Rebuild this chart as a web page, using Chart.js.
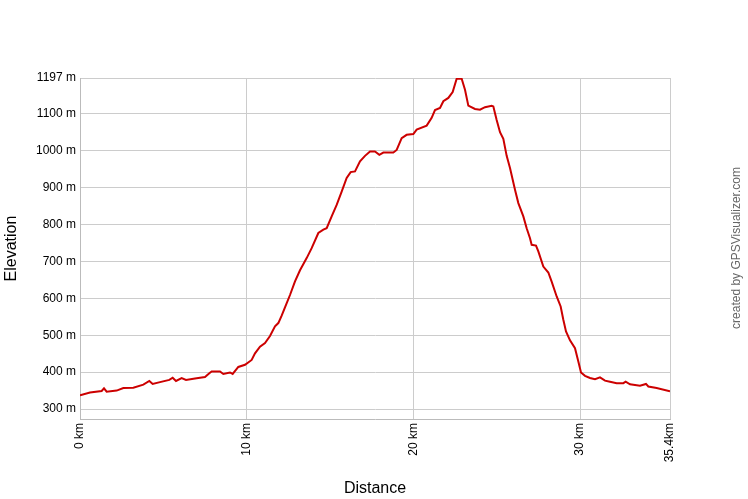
<!DOCTYPE html>
<html>
<head>
<meta charset="utf-8">
<script src="https://cdn.jsdelivr.net/npm/chart.js@4/dist/chart.umd.min.js"></script>
<style>
  body { margin: 0; background: #fff; }
  canvas { display: block; }
</style>
</head>
<body>
<canvas id="Chart" width="748" height="499"></canvas>
<script>
// distance along the track (km) and elevation (m)
const distKm = [0.0, 0.6, 1.3, 1.44, 1.6, 2.2, 2.6, 3.2, 3.8, 4.16, 4.36, 4.8, 5.36, 5.56, 5.76, 6.1, 6.36, 6.9, 7.2, 7.5,
  7.76, 7.9, 8.4, 8.6, 9.0, 9.16, 9.5, 9.9, 10.3, 10.5, 10.8, 11.1, 11.4, 11.7, 11.9, 12.1, 12.36, 12.6, 12.9, 13.2,
  13.6, 13.9, 14.3, 14.6, 14.8, 15.1, 15.4, 15.7, 16.0, 16.24, 16.5, 16.8, 17.1, 17.4, 17.7, 17.96, 18.2, 18.8, 19.0, 19.3,
  19.6, 20.0, 20.2, 20.8, 21.1, 21.3, 21.6, 21.8, 22.1, 22.36, 22.6, 22.9, 23.1, 23.3, 23.7, 24.0, 24.3, 24.7, 24.8, 25.0,
  25.2, 25.4, 25.6, 25.8, 26.1, 26.3, 26.6, 26.8, 27.0, 27.1, 27.36, 27.5, 27.8, 28.1, 28.3, 28.6, 28.84, 29.0, 29.16, 29.4,
  29.7, 29.9, 30.06, 30.3, 30.6, 30.9, 31.2, 31.5, 31.8, 32.2, 32.6, 32.74, 33.0, 33.6, 33.96, 34.1, 34.6, 35.4];
const elevM = [337, 345, 349, 356, 347, 350, 357, 358, 366, 376, 368, 373, 379, 385, 376, 384, 379, 383, 385, 387,
  397, 402, 402, 395, 399, 395, 414, 420, 433, 451, 469, 479, 498, 524, 533, 553, 582, 609, 646, 676,
  709, 736, 777, 786, 790, 822, 853, 889, 926, 942, 944, 971, 986, 998, 998, 989, 995, 995, 1002, 1034,
  1043, 1045, 1057, 1068, 1089, 1110, 1116, 1134, 1143, 1159, 1195, 1195, 1165, 1122, 1113, 1111, 1118, 1122, 1120, 1083,
  1050, 1032, 986, 953, 894, 858, 822, 790, 763, 745, 743, 727, 686, 670, 645, 605, 578, 542, 510, 486,
  465, 429, 399, 390, 384, 381, 386, 377, 374, 370, 370, 374, 367, 363, 368, 361, 357, 348];

const xTicks = [0, 10, 20, 30, 35.4];
const yTicks = [300, 400, 500, 600, 700, 800, 900, 1000, 1100, 1197];

const points = distKm.map((d, i) => ({x: d, y: elevM[i]}));

const creditPlugin = {
  id: "credit",
  afterDraw(chart) {
    const ctx = chart.ctx;
    ctx.save();
    ctx.translate(737, 248);
    ctx.rotate(-Math.PI / 2);
    ctx.font = "12px 'Liberation Sans', Arial, sans-serif";
    ctx.fillStyle = "#666";
    ctx.textAlign = "center";
    ctx.textBaseline = "middle";
    ctx.fillText("created by GPSVisualizer.com", 0, 0);
    ctx.restore();
  }
};

new Chart("Chart", {
  type: "line",
  data: {
    datasets: [{
      data: points,
      borderColor: "#cc0000",
      borderWidth: 2,
      pointRadius: 0,
      tension: 0,
      fill: false
    }]
  },
  options: {
    responsive: false,
    animation: false,
    devicePixelRatio: 1,
    layout: {padding: {left: 0, top: 78, right: 78, bottom: 0}},
    plugins: {legend: {display: false}, tooltip: {enabled: false}},
    font: {family: "'Liberation Sans', Arial, sans-serif"},
    scales: {
      x: {
        type: "linear",
        min: 0,
        max: 35.4,
        afterBuildTicks: s => { s.ticks = xTicks.map(v => ({value: v})); },
        afterFit: s => { s.height = 80; },
        grid: {color: "#cccccc", drawTicks: false},
        border: {color: "#bbbbbb"},
        ticks: {
          autoSkip: false,
          minRotation: 90,
          maxRotation: 90,
          padding: 4,
          color: "#000",
          font: {size: 12},
          callback: v => v === 35.4 ? "35.4km" : v + " km"
        },
        title: {
          display: true,
          text: "Distance",
          color: "#000",
          font: {size: 16, lineHeight: 1.2},
          padding: {top: 0, bottom: 1}
        }
      },
      y: {
        min: 273,
        max: 1197,
        afterBuildTicks: s => { s.ticks = yTicks.map(v => ({value: v})); },
        afterFit: s => { s.width = 80; },
        grid: {color: "#cccccc", drawTicks: false},
        border: {color: "#bbbbbb"},
        ticks: {
          padding: 4,
          color: "#000",
          font: {size: 12},
          callback: v => v + " m"
        },
        title: {
          display: true,
          text: "Elevation",
          color: "#000",
          font: {size: 16, lineHeight: 1.2},
          padding: {top: 2, bottom: 0}
        }
      }
    }
  },
  plugins: [creditPlugin]
});
</script>
</body>
</html>
